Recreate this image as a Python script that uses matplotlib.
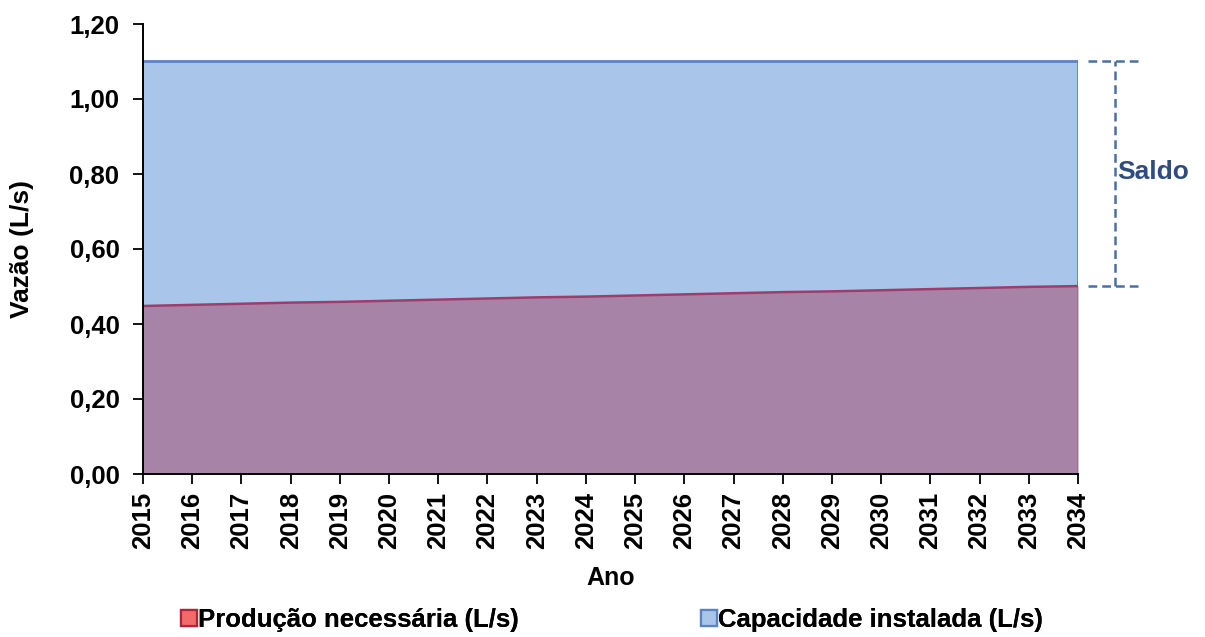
import matplotlib
matplotlib.use("Agg")
import matplotlib.pyplot as plt
from matplotlib.lines import Line2D

plt.rcParams['font.family'] = ['Liberation Sans', 'DejaVu Sans']
plt.rcParams['font.weight'] = 'bold'

years = list(range(2015, 2035))
producao = [0.448, 0.451, 0.454, 0.457, 0.459, 0.462, 0.465, 0.468, 0.471, 0.473,
            0.476, 0.479, 0.482, 0.485, 0.487, 0.490, 0.493, 0.496, 0.499, 0.501]
capacidade = [1.10] * len(years)
yticks = [0.0, 0.2, 0.4, 0.6, 0.8, 1.0, 1.2]
ytick_labels = ["0,00", "0,20", "0,40", "0,60", "0,80", "1,00", "1,20"]

W, H = 1205, 637
fig = plt.figure(figsize=(W / 100, H / 100), dpi=100)
ax = fig.add_axes([143 / W, 1 - 474 / H, (1078 - 143) / W, (474 - 24) / H])

cap_fill = "#A9C5E9"
cap_edge = "#5B82C2"
prod_fill = "#A784A7"
prod_edge = "#9C3D6C"
fs = 18.5

ax.fill_between(years, 0, capacidade, color=cap_fill, linewidth=0, zorder=1)
ax.plot(years, capacidade, color=cap_edge, lw=2, zorder=3)
ax.plot([years[-1], years[-1]], [0, capacidade[-1]], color=cap_edge, lw=2, zorder=3)
ax.fill_between(years, 0, producao, color=prod_fill, linewidth=0, zorder=2)
ax.plot(years, producao, color=prod_edge, lw=1.8, zorder=3)

ax.set_xlim(years[0], years[-1])
ax.set_ylim(0, 1.2)
ax.set_xticks(years)
ax.set_xticklabels([str(y) for y in years], rotation=90, fontsize=fs, fontweight='bold')
ax.set_yticks(yticks)
ax.set_yticklabels(ytick_labels, fontsize=fs, fontweight='bold')
ax.tick_params(axis='y', direction='out', length=7, width=1.3, pad=10)
ax.tick_params(axis='x', direction='out', length=7, width=1.3, pad=6)
for s in ['top', 'right']:
    ax.spines[s].set_visible(False)
for s in ['left', 'bottom']:
    ax.spines[s].set_linewidth(1.4)
    ax.spines[s].set_zorder(4)

ax.set_ylabel("Vazão (L/s)", fontsize=19, fontweight='bold')
ax.yaxis.set_label_coords((22 - 143) / (1078 - 143), 0.5)
ax.set_xlabel("Ano", fontsize=18, fontweight='bold')
ax.xaxis.set_label_coords(0.5, -(578 - 474) / (474 - 24))
ax.xaxis.label.set_va('center')
ax.yaxis.label.set_va('center')

# balance annotation between installed capacity and required production
saldo_color = "#4A6FA5"
px = 19 / 935  # data units per pixel along x
x_bar = 2034 + 37 * px
dash = (0, (3.5, 2))
ax.plot([x_bar, x_bar], [producao[-1], capacidade[-1]], color=saldo_color, lw=1.8,
        ls=dash, clip_on=False, zorder=5)
for yv in (producao[-1], capacidade[-1]):
    ax.plot([x_bar - 27 * px, x_bar + 26 * px], [yv, yv], color=saldo_color, lw=1.8,
            ls=dash, clip_on=False, zorder=5)
ax.text(x_bar + 2 * px, 0.805, "Saldo",
        color="#2E4C7E", fontsize=19, fontweight='bold', ha='left', va='center')

leg_items = [
    ("Produção necessária (L/s)", "#F26B6B", "#B0243A", 180),
    ("Capacidade instalada (L/s)", cap_fill, cap_edge, 700),
]
for label, fc, ec, x0 in leg_items:
    h = Line2D([], [], marker='s', ls='none', markersize=11, markerfacecolor=fc,
               markeredgecolor=ec, markeredgewidth=1.6)
    lg = fig.legend([h], [label], loc='center left', bbox_to_anchor=(x0 / W, 1 - 620 / H),
                    frameon=False, handlelength=0.7, handletextpad=0.0, borderpad=0,
                    borderaxespad=0, prop={'weight': 'bold', 'size': fs})
    fig.add_artist(lg)

fig.savefig("out.png", dpi=100)
